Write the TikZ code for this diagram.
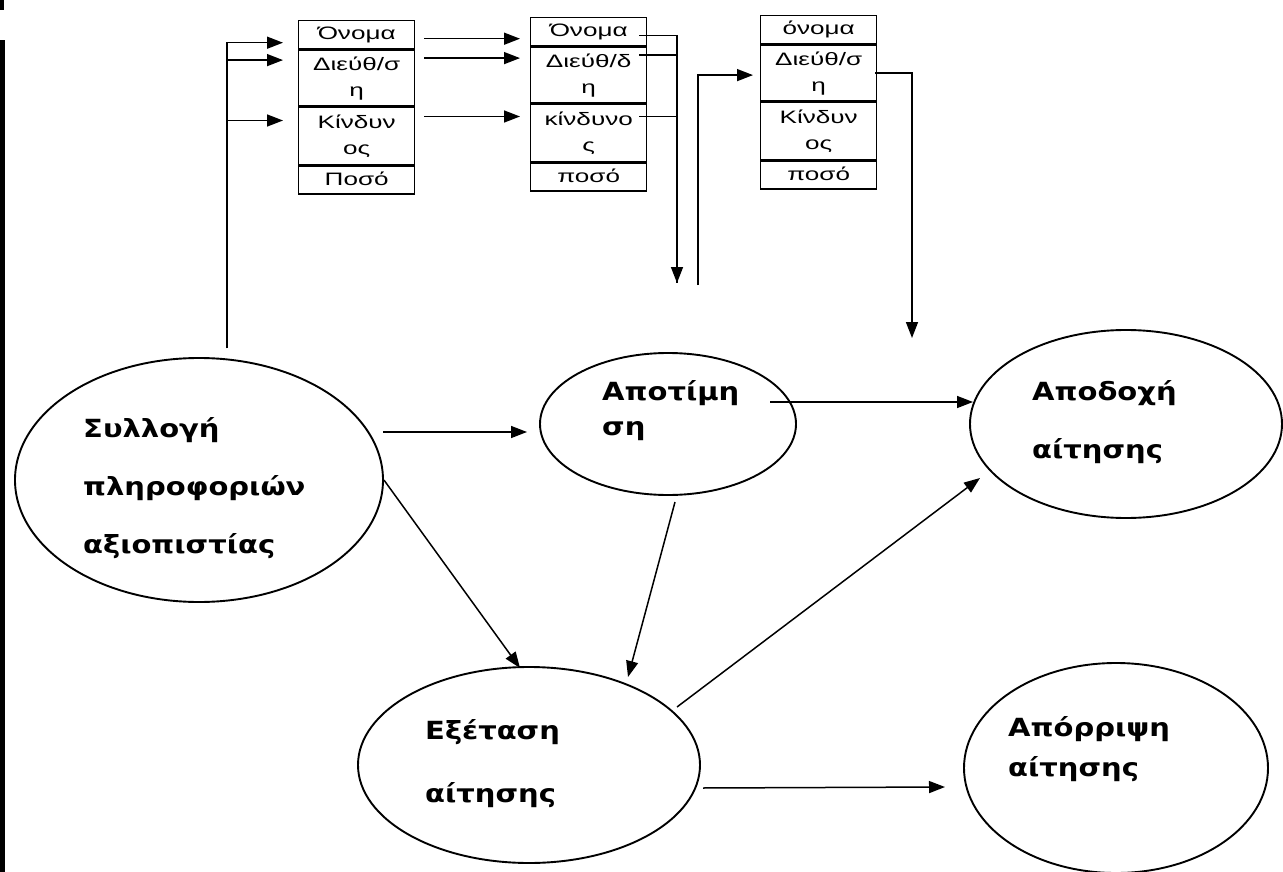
\documentclass[tikz,border=0pt]{standalone}
\usepackage{fontspec}
\setmainfont{Liberation Sans}
\newfontfamily\recfont{Liberation Sans}
\newfontfamily\ellfont{DejaVu Sans Bold}
\usetikzlibrary{shapes.geometric,arrows.meta,calc}

% widened text blocks: record fields (centred) and process labels (left)
\newcommand\fieldtext[1]{\scalebox{1.45}[1]{\begin{tabular}{@{}c@{}}#1\end{tabular}}}
\newcommand\proctext[1]{\scalebox{1.16}[1]{\begin{tabular}{@{}l@{}}#1\end{tabular}}}

\begin{document}
\begin{tikzpicture}[x=1pt,y=-1pt,
  recrow/.style={draw,line width=1.4pt,minimum width=116pt,inner sep=0pt,
    anchor=north west,font=\recfont\fontsize{18}{26}\selectfont},
  recone/.style={recrow,minimum height=28pt},
  rectwo/.style={recrow,minimum height=56pt},
  recthree/.style={recrow,minimum height=57pt},
  ell/.style={ellipse,draw,line width=1.9pt,inner sep=0pt},
  lbl/.style={anchor=west,inner sep=0pt,
    font=\ellfont\fontsize{25}{30}\selectfont},
  link/.style={line width=1.5pt},
  arr/.style={link,-{Triangle[length=16pt,width=12pt]}}
]
\useasboundingbox (0,0) rectangle (1283,872);

% dark page edge on the left
\fill (0,0) rectangle (4,10);
\fill (0,40) rectangle (5,872);

% first record
\node[recone]   (r1a) at (298,20) {\fieldtext{Όνομα}};
\node[rectwo]   (r1b) at (r1a.south west) {\fieldtext{Διεύθ/σ\\η}};
\node[recthree] (r1c) at (r1b.south west) {\fieldtext{Κίνδυν\\ος}};
\node[recone]   (r1d) at (r1c.south west) {\fieldtext{Ποσό}};

% second record
\node[recone]   (r2a) at (530,17) {\fieldtext{Όνομα}};
\node[rectwo]   (r2b) at (r2a.south west) {\fieldtext{Διεύθ/δ\\η}};
\node[recthree] (r2c) at (r2b.south west) {\fieldtext{κίνδυνο\\ς}};
\node[recone]   (r2d) at (r2c.south west) {\fieldtext{ποσό}};

% third record
\node[recone]   (r3a) at (760,15) {\fieldtext{όνομα}};
\node[rectwo]   (r3b) at (r3a.south west) {\fieldtext{Διεύθ/σ\\η}};
\node[recthree] (r3c) at (r3b.south west) {\fieldtext{Κίνδυν\\ος}};
\node[recone]   (r3d) at (r3c.south west) {\fieldtext{ποσό}};

% processes
\node[ell,minimum width=368pt,minimum height=244pt] (e1) at (199,480) {};
\node[ell,minimum width=256pt,minimum height=142pt] (e2) at (668,424) {};
\node[ell,minimum width=312pt,minimum height=188pt] (e3) at (1126,424) {};
\node[ell,minimum width=342pt,minimum height=196pt] (e4) at (529,765) {};
\node[ell,minimum width=304pt,minimum height=210pt] (e5) at (1116,768) {};

\node[lbl] (e1t) at (83,489) {\proctext{Συλλογή\\[28pt]πληροφοριών\\[28pt]αξιοπιστίας}};
\node[lbl] (e2t) at (602,412) {\proctext{Αποτίμη\\[5pt]ση}};
\node[lbl] (e3t) at (1032,423) {\proctext{Αποδοχή\\[28pt]αίτησης}};
\node[lbl] (e4t) at (425,765) {\proctext{Εξέταση\\[33pt]αίτησης}};
\node[lbl] (e5t) at (1008,750) {\proctext{Απόρριψη\\[10pt]αίτησης}};

% feed into the first record
\coordinate (t1) at (227,348);
\draw[arr] (t1) |- ($(r1a.west)+(-15,8)$);
\draw[arr] (t1) |- ($(r1b.west)+(-15,-18)$);
\draw[arr] (t1) |- ($(r1c.west)+(-15,-15.5)$);

% first record to second record
\draw[arr] ($(r1a.east)+(9,4)$) -- ($(r2a.west)+(-10,7)$);
\draw[arr] ($(r1b.east)+(9,-20)$) -- ($(r2b.west)+(-10,-17)$);
\draw[arr] ($(r1c.east)+(9,-19.5)$) -- ($(r2c.west)+(-10,-16.5)$);

% out of the second record
\coordinate (d2) at (677,283);
\draw[arr] ($(r2a.east)+(-8,4)$) -| (d2);
\draw[link] ($(r2b.east)+(-8,-20)$) -| (d2);
\draw[link] ($(r2c.east)+(-8,-16.5)$) -| (d2);

% into the third record
\coordinate (u3) at (698,285);
\draw[arr] (u3) |- ($(r3b.west)+(-7,2)$);

% out of the third record
\coordinate (d3) at (912,338);
\draw[arr] ($(r3b.east)+(-2,0)$) -| (d3);

% flow between processes
\draw[arr] ($(e1.center)+(184,-48)$) -- ($(e2.center)+(-141,8)$);
\draw[arr] ($(e2.center)+(102,-22)$) -- ($(e3.center)+(-153,-22)$);
\draw[arr] (e1.east) -- ($(e4.center)+(-9,-97)$);
\draw[arr] ($(e2.center)+(7,78)$) -- ($(e4.center)+(99,-88)$);
\draw[arr] ($(e4.center)+(148,-58)$) -- ($(e3.center)+(-146,54)$);
\draw[arr] ($(e4.center)+(174,23)$) -- ($(e5.center)+(-171,19)$);
\end{tikzpicture}
\end{document}
